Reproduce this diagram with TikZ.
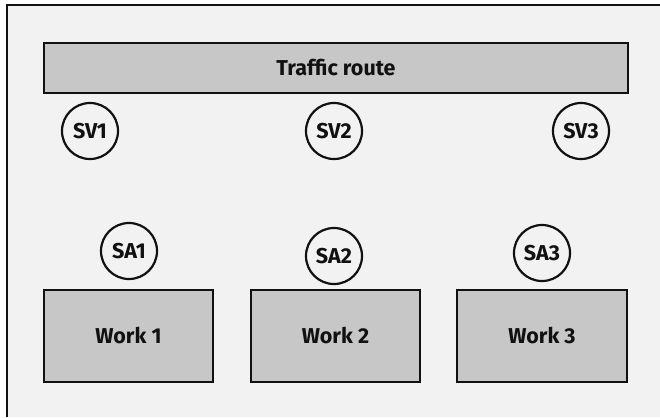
\documentclass[tikz,border=0pt]{standalone}
\usepackage{fontspec}
\setmainfont{Fira Sans}
\definecolor{bgc}{HTML}{F2F2F2}
\definecolor{boxc}{HTML}{C6C7C6}
\definecolor{inkc}{HTML}{111111}
\begin{document}
\begin{tikzpicture}[x=1bp,y=-1bp,
  lbl/.style={font=\fontsize{21.5bp}{25bp}\selectfont\bfseries, text=inkc},
  boxnode/.style={lbl, draw=inkc, line width=2.8bp, fill=boxc, rectangle, inner sep=0pt},
  sign/.style={lbl, draw=inkc, line width=2.2bp, fill=bgc, circle, minimum size=56bp, inner sep=0pt}]
\useasboundingbox (0,0) rectangle (660,417);
\fill[white] (0,0) rectangle (660,417);
\fill[bgc] (7,5) rectangle (660,417);
\draw[inkc, line width=2.8bp] (7,417) -- (7,5) -- (660,5);
\node[boxnode, minimum width=584bp, minimum height=50bp] (route) at (336,68) {Traffic route};
\node[sign] (sv1) at (90,131) {SV1};
\node[sign] (sv2) at (334,131) {SV2};
\node[sign] (sv3) at (581,131) {SV3};
\node[sign] (sa1) at (129,251) {SA1};
\node[sign] (sa2) at (334,256) {SA2};
\node[sign] (sa3) at (542,253) {SA3};
\node[boxnode, minimum width=169bp, minimum height=92bp] (w1) at (128.5,336) {Work 1};
\node[boxnode, minimum width=169bp, minimum height=92bp] (w2) at (335.5,336) {Work 2};
\node[boxnode, minimum width=170bp, minimum height=92bp] (w3) at (542,336) {Work 3};
\end{tikzpicture}
\end{document}
